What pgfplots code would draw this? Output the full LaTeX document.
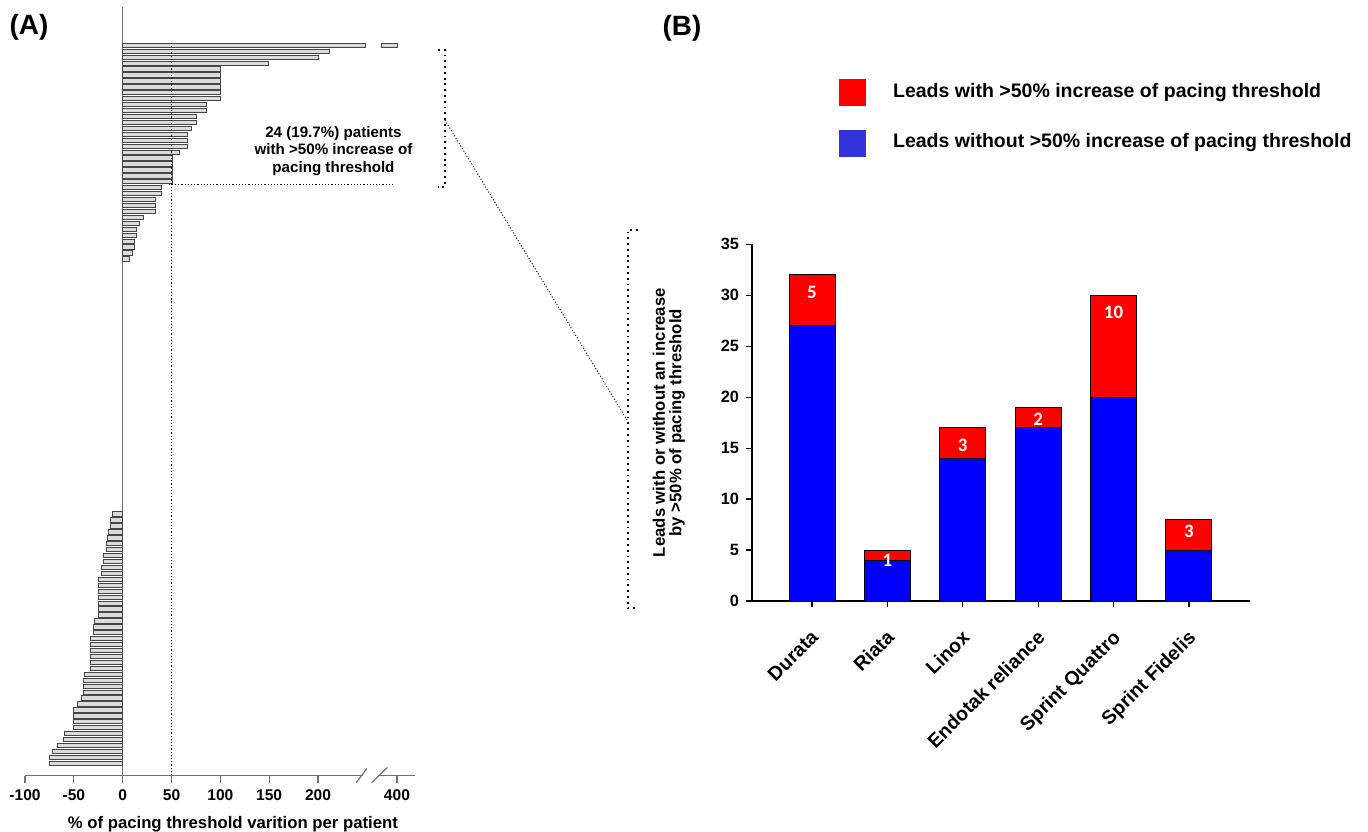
\documentclass[border=0pt]{standalone}
\usepackage{fontspec}
\setmainfont{Liberation Sans}
\newfontfamily\carlitofont{Carlito}
\usepackage{pgfplots}
\pgfplotsset{compat=1.18}
\usepackage{pgfplotstable}
\definecolor{legblue}{HTML}{3333DD}
\definecolor{axgray}{HTML}{707070}

% Panel A: one bar per patient (y = rank from bottom, x = % variation;
% the 400 % bar lies beyond the axis break and is stored at 280.8 = position of tick "400")
\pgfplotstableread{
y x
122 280.8
121 212
120 200
119 149
118 100
117 100
116 100
115 100
114 100
113 100
112 86
111 86
110 75
109 75
108 70
107 66
106 66
105 66
104 58
103 51
102 51
101 51
100 51
99 51
98 40
97 40
96 34
95 34
94 34
93 21
92 17
91 14
90 14
89 12
88 12
87 10
86 7
43 -10.4
42 -12.1
41 -12.1
40 -14.5
39 -15.5
38 -16.2
37 -16.2
36 -19.6
35 -19.6
34 -21.7
33 -21.7
32 -24.4
31 -24.4
30 -24.4
29 -24.4
28 -24.4
27 -24.4
26 -24.4
25 -28.8
24 -29.9
23 -29.9
22 -33.3
21 -33.3
20 -33.3
19 -33.3
18 -33.3
17 -33.3
16 -39.1
15 -39.7
14 -39.7
13 -39.7
12 -42.2
11 -46.3
10 -50
9 -50
8 -50
7 -50
6 -59.6
5 -60.9
4 -66.7
3 -72.2
2 -74.9
1 -74.9
}\dataA

% Panel B: leads per model
\pgfplotstableread{
idx blue red
0 27 5
1 4 1
2 14 3
3 17 2
4 20 10
5 5 3
}\dataB

\begin{document}
\begin{tikzpicture}
\useasboundingbox (0,0) rectangle (684bp,-416bp);

% ---------------- Panel A ----------------
\begin{axis}[
  at={(12.5bp,-387.85bp)}, anchor=south west,
  scale only axis, width=195bp, height=384.5bp,
  xbar, bar width=0.72,
  xmin=-100, xmax=299.3, ymin=-1.1, ymax=128.5,
  axis x line=bottom, axis y line=center,
  axis line style={-, draw=axgray, line width=0.6bp},
  ytick=\empty,
  xtick={-100,-50,0,50,100,150,200,280.8},
  xticklabels={-100,-50,0,50,100,150,200,400},
  tick align=outside, major tick length=3.5bp,
  tick style={axgray, line width=0.6bp},
  xticklabel style={font=\fontsize{7.8}{9}\selectfont\bfseries},
  xlabel={\% of pacing threshold varition per patient},
  xlabel style={at={(axis description cs:0.533,0)}, anchor=base, yshift=-26.6bp,
    font=\fontsize{8.4}{10}\selectfont\bfseries},
  clip=false,
]
\addplot[fill=gray!28, draw=gray!55!black, line width=0.4bp] table[x=x,y=y]{\dataA};
% break in the longest bar
\fill[white] (axis cs:249.3,121.55) rectangle (axis cs:264.2,122.45);
\draw[gray!55!black, line width=0.4bp] (axis cs:249,121.64) -- (axis cs:249,122.36);
\draw[gray!55!black, line width=0.4bp] (axis cs:264.5,121.64) -- (axis cs:264.5,122.36);
% break on the x axis
\fill[white] (axis cs:246,-1.6) rectangle (axis cs:261,-0.6);
\draw[axgray, line width=0.6bp] (axis cs:239,-2.3) -- (axis cs:250,0.1);
\draw[axgray, line width=0.6bp] (axis cs:255,-2.3) -- (axis cs:271,0.3);
% 50% reference lines
\draw[densely dotted, line width=0.6bp] (axis cs:50,122.4) -- (axis cs:50,-1.1);
\draw[densely dotted, line width=0.6bp] (axis cs:47,98.5) -- (axis cs:279,98.5);
\end{axis}

% ---------------- Panel B ----------------
\begin{axis}[
  at={(376bp,-300.5bp)}, anchor=south west,
  scale only axis, width=249bp, height=178.35bp,
  ybar stacked, bar width=0.61,
  xmin=-0.796, xmax=5.81, ymin=0, ymax=35,
  axis x line=bottom, axis y line=left,
  axis line style={-, black, line width=0.6bp},
  xtick={0,1,2,3,4,5},
  xticklabels={Durata,Riata,Linox,Endotak reliance,Sprint Quattro,Sprint Fidelis},
  ytick={0,5,10,15,20,25,30,35},
  yticklabels={0,5,10,15,20,25,30,35},
  tick align=outside, major tick length=3bp,
  tick style={black, line width=0.6bp},
  xticklabel style={rotate=45, anchor=north east, xshift=-5bp, yshift=-3.5bp,
    font=\fontsize{9.8}{11}\selectfont\bfseries},
  yticklabel style={font=\fontsize{8.2}{10}\selectfont\bfseries},
  ylabel={Leads with or without an increase\\by >50\% of pacing threshold},
  ylabel style={at={(axis description cs:-0.167,0.5)}, anchor=center, align=center,
    font=\fontsize{8.4}{8.2}\selectfont\bfseries},
  clip=false,
  after end axis/.code={
    \tikzset{barlab/.style={text=white, font=\fontsize{9.5}{11}\selectfont\carlitofont\bfseries}}
    \node[barlab] at (axis cs:0,30.3) {5};
    \node[barlab] at (axis cs:1,4.0) {1};
    \node[barlab] at (axis cs:2,15.3) {3};
    \node[barlab] at (axis cs:3,17.8) {2};
    \node[barlab] at (axis cs:4,28.3) {10};
    \node[barlab] at (axis cs:5,6.8) {3};
  },
]
\addplot[fill=blue, draw=black, line width=0.5bp] table[x=idx,y=blue]{\dataB};
\addplot[fill=red, draw=black, line width=0.5bp] table[x=idx,y=red]{\dataB};
\end{axis}

% ---------------- annotations (pixel grid) ----------------
\begin{scope}[x=0.5bp,y=-0.5bp]
\node[font=\fontsize{14}{16}\selectfont\bfseries] at (29,27) {(A)};
\node[font=\fontsize{14}{16}\selectfont\bfseries] at (682,28) {(B)};
\node[align=center, font=\fontsize{7.6}{8.8}\selectfont\bfseries] at (333.5,150.7)
  {24 (19.7\%) patients\\with >50\% increase of\\pacing threshold};
\draw[dotted, line width=0.9bp] (438,50) -- (445,50) -- (445,186.7) -- (438,186.7);
\draw[densely dotted, line width=0.5bp] (445,120) -- (627,420);
\draw[dotted, line width=0.9bp] (638,230) -- (628,230) -- (628,608) -- (638,608);
\fill[red] (839,79) rectangle (866,106);
\fill[legblue] (839,130) rectangle (866,157);
\node[anchor=base west, inner sep=0pt, font=\fontsize{9.8}{11}\selectfont\bfseries] at (892.7,98)
  {Leads with >50\% increase of pacing threshold};
\node[anchor=base west, inner sep=0pt, font=\fontsize{9.8}{11}\selectfont\bfseries] at (892.7,148)
  {Leads without >50\% increase of pacing threshold};
\end{scope}
\end{tikzpicture}
\end{document}
